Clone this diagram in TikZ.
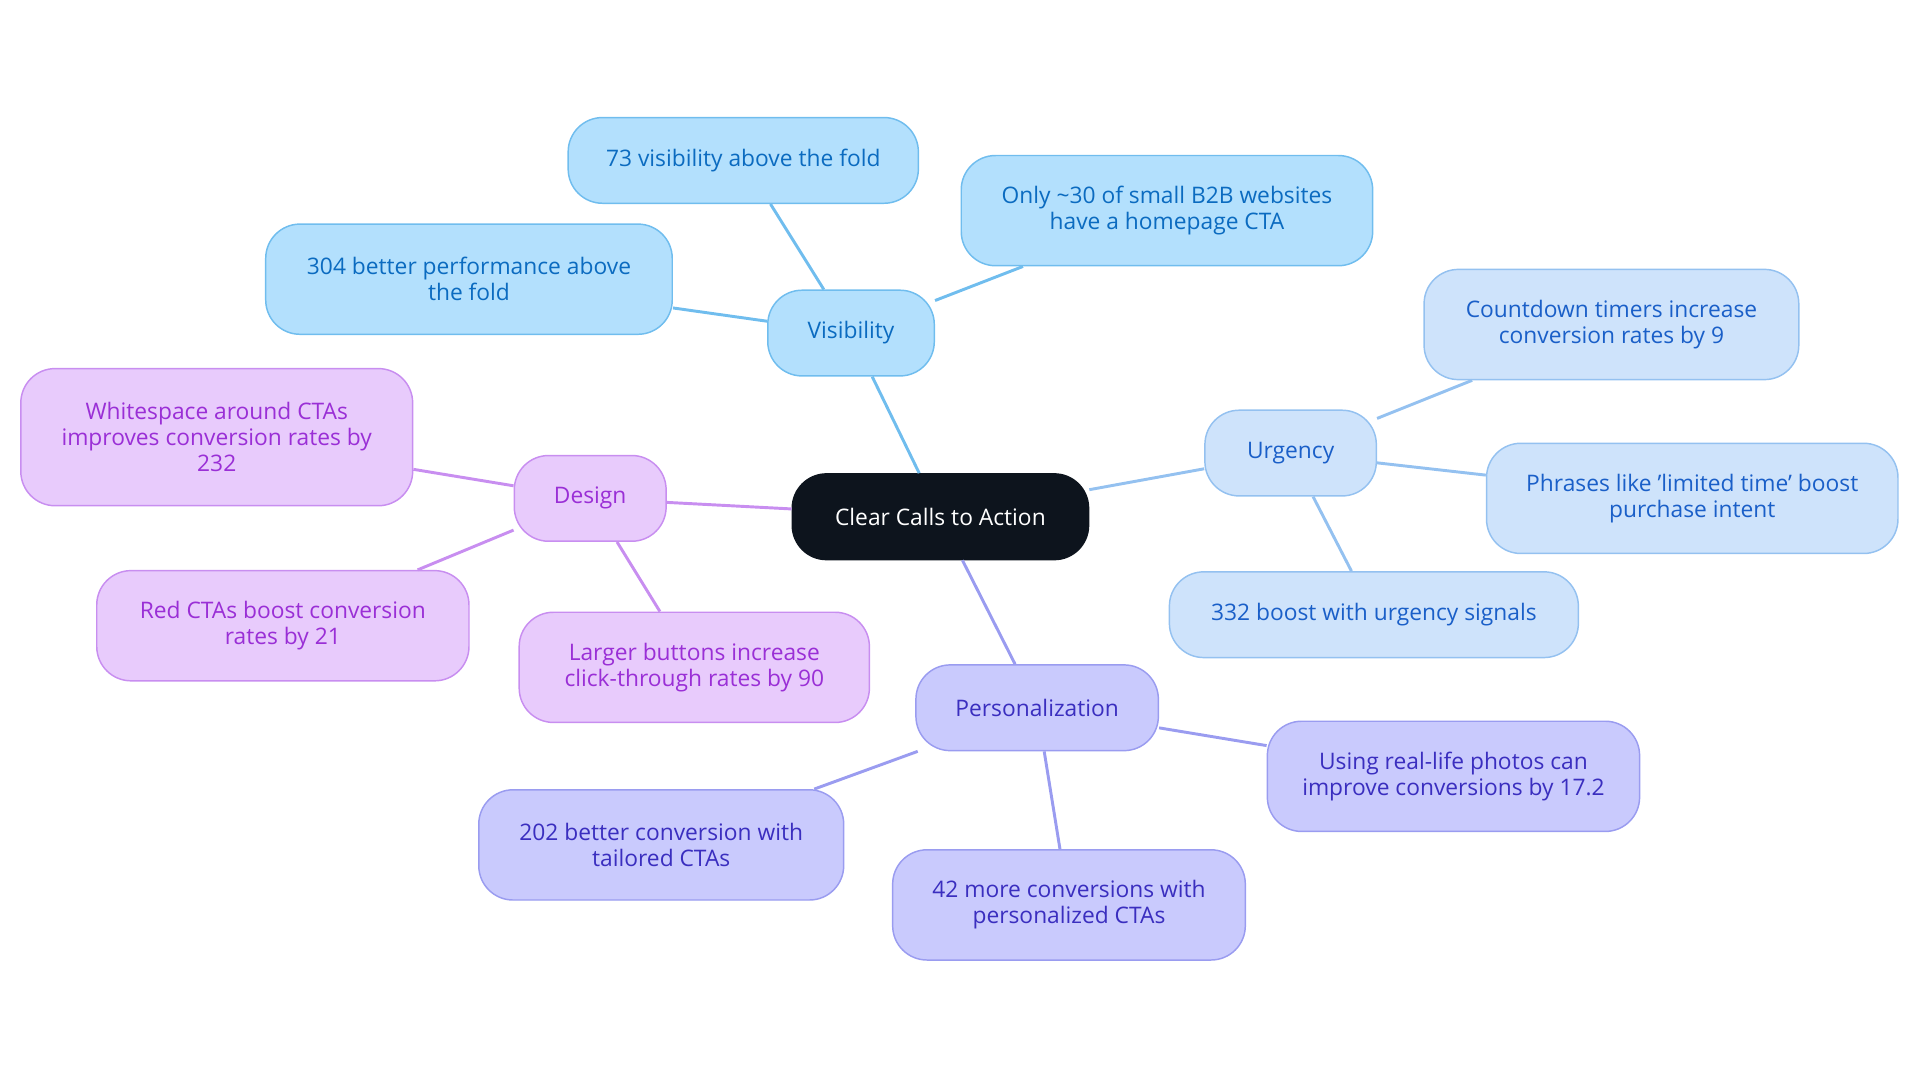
\documentclass[tikz,border=0pt]{standalone}
\usepackage{fontspec}
\setmainfont{Open Sans}
\definecolor{vf}{HTML}{B3E0FD}\definecolor{vs}{HTML}{70BDEE}\definecolor{vt}{HTML}{0B6BC0}
\definecolor{uf}{HTML}{CEE3FB}\definecolor{us}{HTML}{94C1F0}\definecolor{ut}{HTML}{1A5FC8}
\definecolor{df}{HTML}{E8CBFC}\definecolor{ds}{HTML}{C88EF0}\definecolor{dt}{HTML}{9A2FD6}
\definecolor{pf}{HTML}{C9CAFD}\definecolor{ps}{HTML}{9A9CF0}\definecolor{pt}{HTML}{3A2EBF}
\definecolor{cf}{HTML}{0D141D}
\begin{document}
\begin{tikzpicture}[x=0.5pt,y=-0.5pt,
 bx/.style={rounded corners=14pt,align=center,font=\fontsize{9.3}{10.5}\selectfont,inner sep=0pt,line width=0.6pt},
 vn/.style={bx,fill=vf,draw=vs,text=vt},
 un/.style={bx,fill=uf,draw=us,text=ut},
 dn/.style={bx,fill=df,draw=ds,text=dt},
 pn/.style={bx,fill=pf,draw=ps,text=pt},
 sz/.style 2 args={minimum width=#1*0.5pt,minimum height=#2*0.5pt},
 vl/.style={draw=vs,line width=1.2pt},ul/.style={draw=us,line width=1.2pt},
 dl/.style={draw=ds,line width=1.2pt},pl/.style={draw=ps,line width=1.2pt}]
\useasboundingbox (0,0) rectangle (1568,884);
\node[bx,fill=cf,draw=cf,text=white,sz={242}{70}] (c) at (768,422) {Clear Calls to Action};
\node[vn,sz={136}{70}] (v) at (695,272) {Visibility};
\node[vn,sz={286}{70}] (v1) at (607,131) {73 visibility above the fold};
\node[vn,sz={336}{90}] (v2) at (953,172) {Only \char`\~30 of small B2B websites\\have a homepage CTA};
\node[vn,sz={332}{90}] (v3) at (383,228) {304 better performance above\\the fold};
\node[un,sz={140}{70}] (u) at (1054,370) {Urgency};
\node[un,sz={306}{90}] (u1) at (1316,265) {Countdown timers increase\\conversion rates by 9};
\node[un,sz={336}{90}] (u2) at (1382,407) {Phrases like 'limited time' boost\\purchase intent};
\node[un,sz={334}{70}] (u3) at (1122,502) {332 boost with urgency signals};
\node[dn,sz={124}{70}] (d) at (482,407) {Design};
\node[dn,sz={320}{112}] (d1) at (177,357) {Whitespace around CTAs\\improves conversion rates by\\232};
\node[dn,sz={304}{90}] (d2) at (231,511) {Red CTAs boost conversion\\rates by 21};
\node[dn,sz={286}{90}] (d3) at (567,545) {Larger buttons increase\\click-through rates by 90};
\node[pn,sz={198}{70}] (p) at (847,578) {Personalization};
\node[pn,sz={304}{90}] (p1) at (1187,634) {Using real-life photos can\\improve conversions by 17.2};
\node[pn,sz={298}{90}] (p2) at (540,690) {202 better conversion with\\tailored CTAs};
\node[pn,sz={288}{90}] (p3) at (873,739) {42 more conversions with\\personalized CTAs};
\begin{scope}[on background layer/.style={}]
\end{scope}
\path[vl] (c) -- (v) (v) -- (v1) (v) -- (v2) (v) -- (v3);
\path[ul] (c) -- (u) (u) -- (u1) (u) -- (u2) (u) -- (u3);
\path[dl] (c) -- (d) (d) -- (d1) (d) -- (d2) (d) -- (d3);
\path[pl] (c) -- (p) (p) -- (p1) (p) -- (p2) (p) -- (p3);
\end{tikzpicture}
\end{document}
